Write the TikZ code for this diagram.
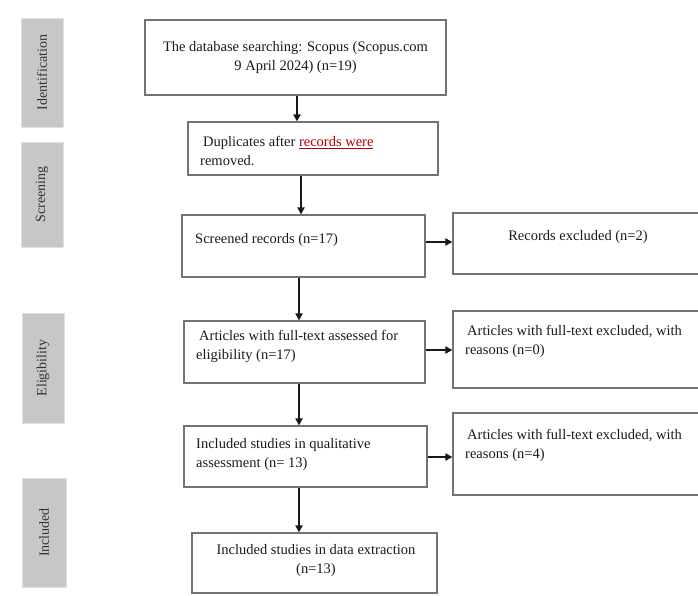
\documentclass[tikz,border=0pt]{standalone}
\usepackage{fontspec}
\setmainfont{Liberation Serif}
\usetikzlibrary{arrows.meta}
\begin{document}
\begin{tikzpicture}[x=1bp,y=-1bp,
  box/.style={draw=black!55, line width=1.1bp, inner sep=0pt},
  txt/.style={inner sep=0pt, font=\fontsize{14.5bp}{19bp}\selectfont, text=black!90},
  side/.style={draw=black!12, fill=black!22, line width=0.8bp, inner sep=0pt,
    rotate=90, font=\fontsize{14bp}{17bp}\selectfont, text=black!80},
  arr/.style={-{Triangle[length=7bp,width=7bp]}, line width=1.8bp, draw=black!90}
]
\useasboundingbox (0,0) rectangle (698,596);
% side stage labels
\node[side, minimum width=109bp, minimum height=42bp] (sIdent) at (42,72.5) {Identification};
\node[side, minimum width=105bp, minimum height=42bp] (sScreen) at (42,194.5) {Screening};
\node[side, minimum width=110bp, minimum height=42bp] (sElig) at (43,368) {Eligibility};
\node[side, minimum width=109bp, minimum height=44bp] (sIncl) at (44,532.5) {Included};
% main boxes
\node[box, minimum width=301bp, minimum height=75bp] (b1) at (295.5,57.5) {};
\node[box, minimum width=250bp, minimum height=53bp] (b2) at (313,148.5) {};
\node[box, minimum width=243bp, minimum height=62bp] (b3) at (303.5,246) {};
\node[box, minimum width=248bp, minimum height=61bp] (r1) at (577,243.5) {};
\node[box, minimum width=241bp, minimum height=62bp] (b4) at (304.5,352) {};
\node[box, minimum width=248bp, minimum height=77bp] (r2) at (577,349.5) {};
\node[box, minimum width=243bp, minimum height=61bp] (b5) at (305.5,456.5) {};
\node[box, minimum width=248bp, minimum height=82bp] (r3) at (577,454) {};
\node[box, minimum width=245bp, minimum height=60bp] (b6) at (314.5,563) {};
% texts
\node[txt, align=center] (t1) at (295.5,58) {The database searching: Scopus (Scopus.com\\9 April 2024) (n=19)};
\node[txt, anchor=west, align=left] (t2) at (200,151) {\hspace{3bp}Duplicates after {\color{red!70!black}\underline{records were}}\\removed.};
\node[txt, anchor=west] (t3) at (195,240) {Screened records (n=17)};
\node[txt] (t4) at (578,237) {Records excluded (n=2)};
\node[txt, anchor=west, align=left] (t5) at (196,346) {\hspace{3bp}Articles with full-text assessed for\\eligibility (n=17)};
\node[txt, anchor=west, align=left] (t6) at (465,341) {\hspace{2bp}Articles with full-text excluded, with\\reasons (n=0)};
\node[txt, anchor=west, align=left] (t7) at (196,455) {Included studies in qualitative\\assessment (n= 13)};
\node[txt, anchor=west, align=left] (t8) at (465,445) {\hspace{2bp}Articles with full-text excluded, with\\reasons (n=4)};
\node[txt, align=center] (t9) at (316,561) {Included studies in data extraction\\(n=13)};
% connectors
\draw[arr] ([xshift=1.5bp]b1.south) -- ([xshift=1.5bp]b1.south |- b2.north);
\draw[arr] ([xshift=-12bp]b2.south) -- ([xshift=-12bp]b2.south |- b3.north);
\draw[arr] ([xshift=-4.5bp]b3.south) -- ([xshift=-4.5bp]b3.south |- b4.north);
\draw[arr] ([xshift=-5.5bp]b4.south) -- ([xshift=-5.5bp]b4.south |- b5.north);
\draw[arr] ([xshift=-6.5bp]b5.south) -- ([xshift=-6.5bp]b5.south |- b6.north);
\draw[arr] ([yshift=4bp]b3.east) -- ([yshift=4bp]b3.east -| r1.west);
\draw[arr] ([yshift=2bp]b4.east) -- ([yshift=2bp]b4.east -| r2.west);
\draw[arr] ([yshift=-0.5bp]b5.east) -- ([yshift=-0.5bp]b5.east -| r3.west);
\end{tikzpicture}
\end{document}
